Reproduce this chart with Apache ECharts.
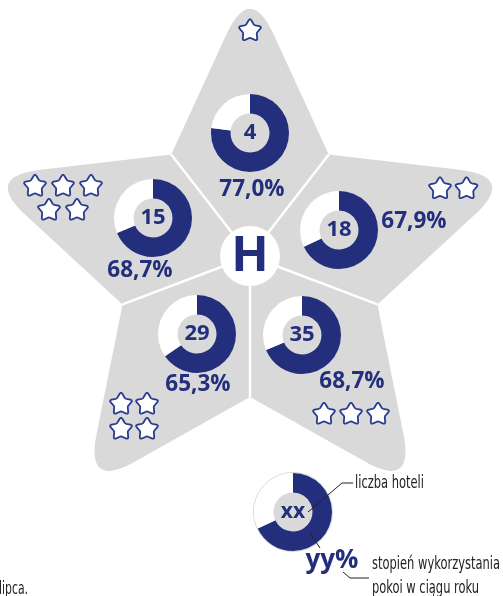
<!DOCTYPE html>
<html>
<head>
<meta charset="utf-8">
<script src="https://cdn.jsdelivr.net/npm/echarts@6/dist/echarts.min.js"></script>
<style>
  html, body { margin: 0; padding: 0; background: #fff; }
  #chart { width: 503px; height: 596px; }
</style>
</head>
<body>
<div id="chart"></div>
<script>
// Hotel categories (number of stars), one per arm of the big star:
// top, right, bottom-right, bottom-left, left
const starRatings = [1, 2, 3, 4, 5];
// number of hotels in each category
const hotelCounts = [4, 18, 35, 29, 15];
// yearly room occupancy rate, %
const occupancy = [77.0, 67.9, 68.7, 65.3, 68.7];
// sample ring used in the key
const keyShare = 68;
const keyCountText = 'xx';
const keyShareText = 'yy%';
const keyCountCaption = 'liczba hoteli';
const keyShareCaption = ['stopień wykorzystania', 'pokoi w ciągu roku'];
const footText = 'lipca.';

// ---- layout & style ----
const BLUE = '#232f7c';
const ICON_BLUE = '#2a3a8e';
const GREY = '#d9d9d9';
const BOLD = '"Open Sans", "Noto Sans", sans-serif';
const NARROW = '"Liberation Sans Narrow", "DejaVu Sans Condensed", "Roboto", sans-serif';

const ringCenters = [[250, 133], [339, 230], [302, 335], [197, 334], [153, 218]];
const pctPos = [[252, 190], [414, 222], [352, 382], [198, 385], [140, 271]];
const iconSlots = [
  [[250, 29.5]],
  [[440, 187.5], [466.5, 187.5]],
  [[324, 413], [351, 413], [378, 413]],
  [[121, 403], [147, 403], [121, 428], [147, 428]],
  [[35, 185], [63, 185], [91, 185], [49, 209], [77, 209]]
];
const hub = { x: 250, y: 256, r: 30 };
const shape = { cx: 250, cy: 263, R: 280, r: 134, tipRound: 57 };
const keyRing = [293, 512];

const rad = d => d * Math.PI / 180;

// closed polygon whose corners are softened with quadratic fillets;
// rounds[i] is the distance from corner i at which the fillet starts
function roundedPolygon(corners, rounds, steps) {
  const out = [];
  const n = corners.length;
  for (let i = 0; i < n; i++) {
    const T = corners[i], A = corners[(i + n - 1) % n], B = corners[(i + 1) % n];
    const d = rounds[i];
    if (!d) { out.push(T); continue; }
    const toward = Q => {
      const dx = Q[0] - T[0], dy = Q[1] - T[1], L = Math.hypot(dx, dy);
      return [T[0] + dx / L * d, T[1] + dy / L * d];
    };
    const P1 = toward(A), P2 = toward(B);
    for (let s = 0; s <= steps; s++) {
      const t = s / steps, u = 1 - t;
      out.push([u * u * P1[0] + 2 * u * t * T[0] + t * t * P2[0],
                u * u * P1[1] + 2 * u * t * T[1] + t * t * P2[1]]);
    }
  }
  return out;
}

function starCorners(cx, cy, R, r) {
  const pts = [];
  for (let i = 0; i < 10; i++) {
    const a = -90 + 36 * i;
    const L = i % 2 ? r : R;
    pts.push([cx + L * Math.cos(rad(a)), cy + L * Math.sin(rad(a))]);
  }
  return pts;
}

const bigCorners = starCorners(shape.cx, shape.cy, shape.R, shape.r);
const bigOutline = roundedPolygon(bigCorners, bigCorners.map((p, i) => i % 2 ? 0 : shape.tipRound), 24);

function iconStar(cx, cy, R) {
  const c = starCorners(cx, cy + R * 0.095, R, R * 0.56);
  return roundedPolygon(c, c.map((p, i) => i % 2 ? 1.2 : 2.8), 6);
}

const fmtPct = v => v.toFixed(1).replace('.', ',') + '%';

// horizontal squeeze so a caption spans a given width
const measureCtx = document.createElement('canvas').getContext('2d');
function squeeze(text, font, width) {
  measureCtx.font = font;
  const w = measureCtx.measureText(text).width;
  return w > 0 ? width / w : 1;
}

const els = [];
els.push({ type: 'polygon', z: 0, silent: true, shape: { points: bigOutline }, style: { fill: GREY } });
bigCorners.filter((p, i) => i % 2).forEach(p => {
  els.push({ type: 'line', z: 1, silent: true,
    shape: { x1: hub.x, y1: hub.y, x2: p[0], y2: p[1] },
    style: { stroke: '#fff', lineWidth: 2.5 } });
});
els.push({ type: 'circle', z: 2, silent: true, shape: { cx: hub.x, cy: hub.y, r: hub.r }, style: { fill: '#fff' } });
els.push({ type: 'text', z: 3, silent: true, x: hub.x, y: hub.y + 1,
  style: { text: 'H', fill: BLUE, font: 'bold 49px ' + BOLD, align: 'center', verticalAlign: 'middle' } });

// star icons: each arm shows as many icons as its category has stars
starRatings.forEach((n, i) => {
  iconSlots[i].slice(0, n).forEach(p => {
    els.push({ type: 'polygon', z: 3, silent: true, shape: { points: iconStar(p[0], p[1], 12.6) },
      style: { fill: '#fff', stroke: ICON_BLUE, lineWidth: 1.8, lineJoin: 'round' } });
  });
});

// occupancy labels
occupancy.forEach((v, i) => {
  els.push({ type: 'text', z: 3, silent: true, x: pctPos[i][0], y: pctPos[i][1],
    style: { text: fmtPct(v), fill: BLUE, font: 'bold 22.5px ' + BOLD, align: 'center', verticalAlign: 'middle' } });
});

// key ring backdrop
els.push({ type: 'circle', z: 0, silent: true, shape: { cx: keyRing[0], cy: keyRing[1], r: 39.5 },
  style: { fill: '#fff', stroke: '#d6d6d6', lineWidth: 1 } });
els.push({ type: 'circle', z: 0, silent: true, shape: { cx: keyRing[0], cy: keyRing[1], r: 20.5 },
  style: { fill: GREY } });
els.push({ type: 'text', z: 3, silent: true, x: 332, y: 561,
  style: { text: keyShareText, fill: BLUE, font: 'bold 26px ' + BOLD, align: 'center', verticalAlign: 'middle' } });

// key leader lines
const thin = { stroke: '#222', lineWidth: 1, fill: null };
els.push({ type: 'polyline', z: 4, silent: true, shape: { points: [[353, 483], [342, 483], [308, 512]] }, style: thin });
els.push({ type: 'polyline', z: 4, silent: true, shape: { points: [[310, 533], [320, 548]] }, style: thin });
els.push({ type: 'polyline', z: 4, silent: true, shape: { points: [[343, 572], [350, 578], [369, 578]] }, style: thin });

// key captions (narrow lettering)
const capFont = '17px ' + NARROW;
function caption(text, x, y, width) {
  els.push({ type: 'text', z: 3, silent: true, x: x, y: y, scaleX: squeeze(text, capFont, width),
    style: { text: text, fill: '#222', font: capFont, align: 'left', verticalAlign: 'middle' } });
}
caption(keyCountCaption, 355, 484, 69);
caption(keyShareCaption[0], 372, 565, 128);
caption(keyShareCaption[1], 372, 589, 107);
caption(footText, -1, 590, 29);

function ring(center, share, centerText, fontSize) {
  return {
    type: 'pie', center: center, radius: [19.5, 39], startAngle: 90, clockwise: true,
    silent: true, avoidLabelOverlap: false, z: 2,
    labelLine: { show: false },
    emphasis: { disabled: true },
    data: [
      { value: share, itemStyle: { color: BLUE },
        label: { show: true, position: 'center', formatter: centerText,
          color: BLUE, fontWeight: 'bold', fontSize: fontSize, fontFamily: BOLD } },
      { value: 100 - share, itemStyle: { color: '#fff' }, label: { show: false } }
    ]
  };
}

const series = hotelCounts.map((n, i) => ring(ringCenters[i], occupancy[i], String(n), 22));
series.push(ring(keyRing, keyShare, keyCountText, 21));

const chart = echarts.init(document.getElementById('chart'), null, { renderer: 'canvas' });
chart.setOption({
  animation: false,
  backgroundColor: '#fff',
  graphic: { elements: els },
  series: series
});
</script>
</body>
</html>
